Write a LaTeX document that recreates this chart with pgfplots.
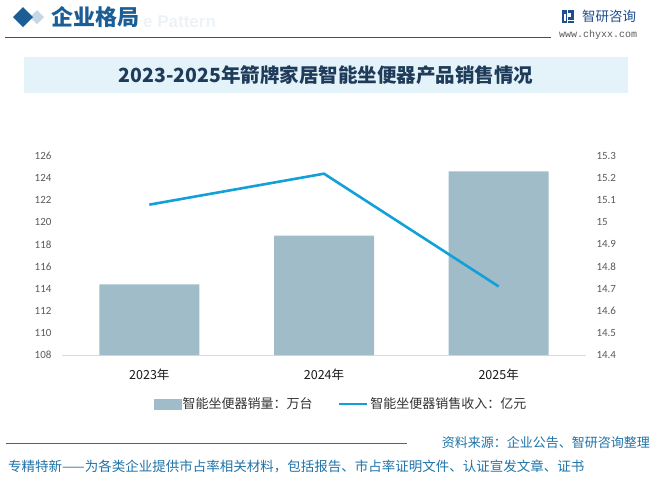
\documentclass[border=0pt]{standalone}
\usepackage{fontspec}
\setmainfont{Noto Sans CJK SC}
\newfontfamily\calfont{Carlito}
\newfontfamily\monofont{Liberation Mono}
\newfontfamily\latinb{Liberation Sans}
\usepackage{pgfplots}
\pgfplotsset{compat=1.18}
\definecolor{barc}{HTML}{A0BCC8}
\definecolor{linec}{HTML}{12A0D8}
\definecolor{tickgray}{HTML}{595959}
\definecolor{axisgray}{HTML}{D9D9D9}
\definecolor{hdrblue}{HTML}{1B5E96}
\definecolor{hdrline}{HTML}{1A5E7E}
\definecolor{titlec}{HTML}{1F3B5A}
\definecolor{titlebox}{HTML}{E4F2F9}
\definecolor{footc}{HTML}{1F73A8}
\definecolor{logoc}{HTML}{1F4E8C}
\begin{document}
\begin{tikzpicture}
\path[use as bounding box] (0pt,0pt) rectangle (655pt,-477pt);
% header
\node[anchor=base west, inner sep=0pt, text=hdrblue!8, font=\latinb\bfseries\fontsize{17}{17}\selectfont] at (143pt,-27pt) {e Pattern};
\fill[hdrblue!25] (37pt,-10pt) -- (44pt,-17pt) -- (37pt,-24pt) -- (30pt,-17pt) -- cycle;
\fill[hdrblue] (23pt,-7pt) -- (33pt,-17pt) -- (23pt,-27pt) -- (13pt,-17pt) -- cycle;
\node[anchor=west, inner sep=0pt, text=hdrblue, font=\bfseries\fontsize{22}{22}\selectfont] at (51pt,-17pt) {企业格局};
\draw[hdrline, line width=1pt] (5pt,-37pt) -- (551pt,-37pt);
% logo
\fill[logoc] (562pt,-10pt) rectangle (567pt,-23pt);
\fill[logoc] (568pt,-10pt) rectangle (574pt,-13pt);
\fill[logoc] (571pt,-13pt) rectangle (574pt,-17pt);
\fill[logoc] (568pt,-17pt) rectangle (574pt,-20pt);
\fill[logoc] (568pt,-21pt) rectangle (574pt,-23pt);
\fill[white] (564pt,-14pt) rectangle (566pt,-21pt);
\node[anchor=west, inner sep=0pt, text=logoc, font=\fontsize{13.5}{13.5}\selectfont] at (582pt,-16pt) {智研咨询};
\node[anchor=west, inner sep=0pt, text=tickgray, font=\monofont\fontsize{10}{10}\selectfont] at (559pt,-35pt) {www.chyxx.com};
% title
\fill[titlebox] (24pt,-57pt) rectangle (628pt,-93pt);
\node[inner sep=0pt, text=titlec, font=\bfseries\fontsize{19.5}{19.5}\selectfont] at (326pt,-75pt) {2023-2025年箭牌家居智能坐便器产品销售情况};
% axes
\begin{axis}[
  at={(62pt,-355pt)}, anchor=south west,
  scale only axis, width=524pt, height=199pt,
  xmin=-0.5, xmax=2.5, ymin=108, ymax=126,
  ytick={108,110,112,114,116,118,120,122,124,126},
  xtick={0,1,2}, xticklabels={2023年,2024年,2025年},
  axis x line=bottom, axis y line=left,
  x axis line style={draw=axisgray, line width=1pt, -},
  y axis line style={draw=none},
  major tick length=0pt,
  /pgf/number format/assume math mode=true,
  yticklabel style={font=\calfont\fontsize{11}{11}\selectfont, text=tickgray, xshift=-7pt},
  xticklabel style={font=\fontsize{12.5}{12.5}\selectfont, text=black!90, yshift=-10pt},
  ybar, bar width=100pt,
  clip=true,
]
\addplot[fill=barc, draw=none] coordinates {(0,114.4) (1,118.8) (2,124.6)};
\end{axis}
\begin{axis}[
  at={(62pt,-355pt)}, anchor=south west,
  scale only axis, width=524pt, height=199pt,
  xmin=-0.5, xmax=2.5, ymin=14.4, ymax=15.3,
  ytick={14.4,14.5,14.6,14.7,14.8,14.9,15,15.1,15.2,15.3},
  axis x line=none, axis y line*=right,
  y axis line style={draw=none},
  major tick length=0pt,
  /pgf/number format/assume math mode=true,
  yticklabel style={font=\calfont\fontsize{11}{11}\selectfont, text=tickgray, xshift=7pt},
  legend style={at={(0.532,-0.246)}, anchor=center, draw=none, fill=none,
    legend columns=2, font=\fontsize{13}{13}\selectfont, text=black!80,
    /tikz/every even column/.append style={column sep=24pt},
    nodes={inner sep=1.5pt}},
]
\addlegendimage{legend image code/.code={\fill[barc] (0pt,-5pt) rectangle (27pt,5pt);}}
\addlegendentry{智能坐便器销量：万台}
\addplot[linec, line width=2.6pt, legend image code/.code={\draw[linec, line width=2.6pt] (0pt,0pt) -- (28pt,0pt);}] coordinates {(0,15.08) (1,15.22) (2,14.71)};
\addlegendentry{智能坐便器销售收入：亿元}
\end{axis}
% footer
\draw[footc, line width=0.8pt] (6pt,-443pt) -- (407pt,-443pt);
\node[anchor=east, inner sep=0pt, text=footc, font=\fontsize{13}{13}\selectfont] at (650pt,-443pt) {资料来源：企业公告、智研咨询整理};
\node[anchor=west, inner sep=0pt, text=footc, font=\fontsize{13.5}{13.5}\selectfont] at (8pt,-466pt) {专精特新——为各类企业提供市占率相关材料，包括报告、市占率证明文件、认证宣发文章、证书};
\end{tikzpicture}
\end{document}
